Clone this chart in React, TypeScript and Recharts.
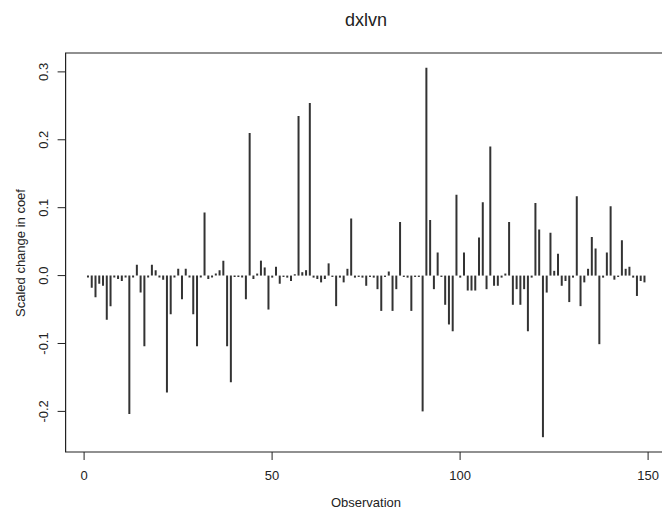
import React from 'react';
import { ComposedChart, Bar, XAxis, YAxis, ReferenceArea } from 'recharts';

const changes: number[] = [
  -0.003, -0.018, -0.032, -0.012, -0.015, -0.065, -0.045, -0.003, -0.005, -0.008,
  -0.003, -0.204, -0.003, 0.016, -0.025, -0.104, -0.003, 0.016, 0.008, -0.003,
  -0.006, -0.172, -0.057, -0.003, 0.01, -0.035, 0.01, -0.003, -0.057, -0.104,
  -0.003, 0.093, -0.005, -0.003, 0.003, 0.008, 0.022, -0.104, -0.157, -0.002,
  -0.002, -0.003, -0.035, 0.21, -0.005, 0.003, 0.022, 0.012, -0.05, -0.003,
  0.013, -0.012, -0.002, -0.003, -0.008, 0.002, 0.235, 0.005, 0.008, 0.254,
  -0.003, -0.005, -0.01, -0.005, 0.018, -0.002, -0.045, -0.003, -0.01, 0.01,
  0.084, -0.003, -0.002, -0.003, -0.015, -0.002, -0.003, -0.02, -0.052, -0.002,
  0.006, -0.052, -0.02, 0.079, -0.002, -0.003, -0.052, -0.002, -0.002, -0.2,
  0.306, 0.082, -0.02, 0.034, -0.002, -0.043, -0.072, -0.082, 0.119, -0.003,
  0.034, -0.022, -0.022, -0.022, 0.056, 0.108, -0.02, 0.19, -0.015, -0.015,
  -0.003, 0.003, 0.079, -0.043, -0.02, -0.043, -0.02, -0.082, -0.003, 0.107,
  0.068, -0.238, -0.025, 0.063, 0.007, 0.032, -0.015, -0.008, -0.039, -0.003,
  0.117, -0.045, -0.01, 0.01, 0.057, 0.04, -0.101, -0.003, 0.034, 0.102,
  -0.006, -0.002, 0.052, 0.01, 0.013, -0.003, -0.03, -0.008, -0.01,
];

const xTicks = [0, 50, 100, 150];
const yTicks = [-0.2, -0.1, 0.0, 0.1, 0.2, 0.3];
const xDomain: [number, number] = [-4.92, 154.92];
const yDomain: [number, number] = [-0.2598, 0.3278];

const data = changes.map((v, i) => ({ obs: i + 1, change: v }));

const FONT = '"Liberation Sans", Arial, Helvetica, sans-serif';
const INK = '#222';

const YTick = (props: any) => {
  const { y, payload } = props;
  const x = 44;
  return (
    <text
      x={x}
      y={y}
      transform={`rotate(-90, ${x}, ${y})`}
      textAnchor="middle"
      dominantBaseline="central"
      fontFamily={FONT}
      fontSize={13}
      fill={INK}
    >
      {payload.value.toFixed(1)}
    </text>
  );
};

export default function App() {
  return (
    <div style={{ position: 'absolute', left: 0, top: 0, width: 662, height: 517, overflow: 'hidden', background: '#fff' }}>
      <div
        style={{
          position: 'absolute', left: 0, width: 732, top: 10, textAlign: 'center',
          fontFamily: FONT, fontSize: 18, color: INK,
        }}
      >
        dxlvn
      </div>
      <ComposedChart
        width={680}
        height={517}
        data={data}
        margin={{ top: 53, right: 13.4, left: 0, bottom: 0 }}
      >
        <XAxis
          dataKey="obs"
          type="number"
          domain={xDomain}
          ticks={xTicks}
          allowDataOverflow
          height={65}
          axisLine={false}
          tickSize={8}
          tickMargin={11}
          tickLine={{ stroke: INK }}
          tick={{ fontFamily: FONT, fontSize: 13, fill: INK }}
        />
        <YAxis
          type="number"
          domain={yDomain}
          ticks={yTicks}
          allowDataOverflow
          width={65.6}
          axisLine={false}
          tickSize={8}
          tickLine={{ stroke: INK }}
          tick={<YTick />}
        />
        <ReferenceArea
          x1={xDomain[0]}
          x2={xDomain[1]}
          y1={yDomain[0]}
          y2={yDomain[1]}
          fill="none"
          fillOpacity={0}
          stroke={INK}
          strokeWidth={1.2}
        />
        <Bar dataKey="change" fill="#333" barSize={2} isAnimationActive={false} />
      </ComposedChart>
      <div
        style={{
          position: 'absolute', left: 0, width: 732, top: 495, textAlign: 'center',
          fontFamily: FONT, fontSize: 13, color: INK,
        }}
      >
        Observation
      </div>
      <div
        style={{
          position: 'absolute', left: 20, top: 253, width: 0, height: 0,
        }}
      >
        <div
          style={{
            position: 'absolute', left: 0, top: 0, transform: 'translate(-50%, -50%) rotate(-90deg)',
            whiteSpace: 'nowrap', fontFamily: FONT, fontSize: 13, color: INK,
          }}
        >
          Scaled change in coef
        </div>
      </div>
    </div>
  );
}
